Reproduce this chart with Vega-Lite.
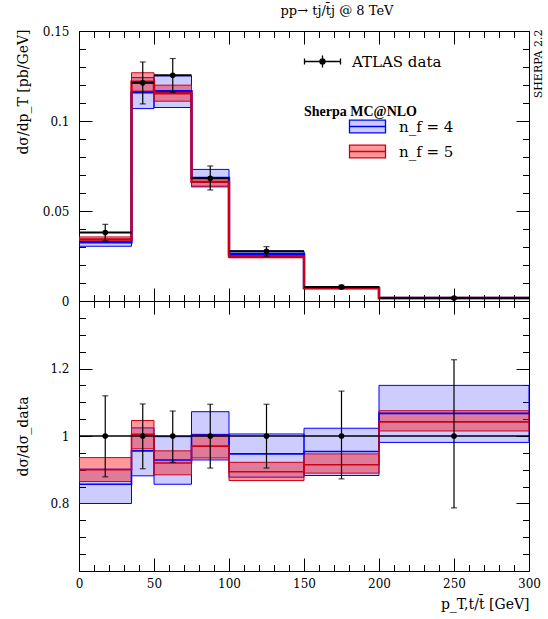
{
  "$schema": "https://vega.github.io/schema/vega-lite/v6.json",
  "description": "pT of the single top quark, ATLAS data vs Sherpa MC@NLO with 4 and 5 flavours",
  "padding": {"left": 15, "top": 4, "right": 4, "bottom": 4},
  "title": {
    "text": "pp→ tj/t̄j @ 8 TeV",
    "font": "DejaVu Serif",
    "fontSize": 13,
    "fontWeight": "normal",
    "color": "black",
    "anchor": "middle",
    "frame": "group",
    "dx": 33,
    "offset": 7
  },
  "datasets": {
    "pts": [
      {"bin": 1, "lo": 0, "hi": 35, "mid": 17.5, "d": 0.0380, "dlo": 0.0334, "dhi": 0.0426, "rlo": 0.879, "rhi": 1.119},
      {"bin": 2, "lo": 35, "hi": 50, "mid": 42.5, "d": 0.1212, "dlo": 0.1095, "dhi": 0.1328, "rlo": 0.903, "rhi": 1.095},
      {"bin": 3, "lo": 50, "hi": 75, "mid": 62.5, "d": 0.1254, "dlo": 0.1158, "dhi": 0.1347, "rlo": 0.922, "rhi": 1.074},
      {"bin": 4, "lo": 75, "hi": 100, "mid": 87.5, "d": 0.0682, "dlo": 0.0617, "dhi": 0.0750, "rlo": 0.905, "rhi": 1.094},
      {"bin": 5, "lo": 100, "hi": 150, "mid": 125, "d": 0.0276, "dlo": 0.0249, "dhi": 0.0302, "rlo": 0.905, "rhi": 1.094},
      {"bin": 6, "lo": 150, "hi": 200, "mid": 175, "d": 0.0078, "dlo": 0.0068, "dhi": 0.0088, "rlo": 0.873, "rhi": 1.133},
      {"bin": 7, "lo": 200, "hi": 300, "mid": 250, "d": 0.0016, "dlo": 0.0012, "dhi": 0.0020, "rlo": 0.787, "rhi": 1.226}
    ],
    "mc": [
      {"bin": 1, "nf": "n_f = 4", "lo": 0, "hi": 35, "c": 0.0326, "blo": 0.0304, "bhi": 0.0343, "rc": 0.857, "rblo": 0.800, "rbhi": 0.902},
      {"bin": 2, "nf": "n_f = 4", "lo": 35, "hi": 50, "c": 0.1159, "blo": 0.1069, "bhi": 0.1241, "rc": 0.956, "rblo": 0.882, "rbhi": 1.024},
      {"bin": 3, "nf": "n_f = 4", "lo": 50, "hi": 75, "c": 0.1165, "blo": 0.1075, "bhi": 0.1251, "rc": 0.929, "rblo": 0.857, "rbhi": 0.998},
      {"bin": 4, "nf": "n_f = 4", "lo": 75, "hi": 100, "c": 0.0684, "blo": 0.0634, "bhi": 0.0731, "rc": 1.003, "rblo": 0.929, "rbhi": 1.072},
      {"bin": 5, "nf": "n_f = 4", "lo": 100, "hi": 150, "c": 0.0261, "blo": 0.0242, "bhi": 0.0278, "rc": 0.947, "rblo": 0.878, "rbhi": 1.006},
      {"bin": 6, "nf": "n_f = 4", "lo": 150, "hi": 200, "c": 0.0074, "blo": 0.0069, "bhi": 0.0080, "rc": 0.954, "rblo": 0.883, "rbhi": 1.023},
      {"bin": 7, "nf": "n_f = 4", "lo": 200, "hi": 300, "c": 0.0017, "blo": 0.0016, "bhi": 0.0018, "rc": 1.067, "rblo": 0.981, "rbhi": 1.150},
      {"bin": 1, "nf": "n_f = 5", "lo": 0, "hi": 35, "c": 0.0342, "blo": 0.0329, "bhi": 0.0356, "rc": 0.900, "rblo": 0.865, "rbhi": 0.936},
      {"bin": 2, "nf": "n_f = 5", "lo": 35, "hi": 50, "c": 0.1218, "blo": 0.1166, "bhi": 0.1268, "rc": 1.005, "rblo": 0.962, "rbhi": 1.046},
      {"bin": 3, "nf": "n_f = 5", "lo": 50, "hi": 75, "c": 0.1154, "blo": 0.1110, "bhi": 0.1199, "rc": 0.920, "rblo": 0.885, "rbhi": 0.956},
      {"bin": 4, "nf": "n_f = 5", "lo": 75, "hi": 100, "c": 0.0662, "blo": 0.0638, "bhi": 0.0685, "rc": 0.970, "rblo": 0.935, "rbhi": 1.005},
      {"bin": 5, "nf": "n_f = 5", "lo": 100, "hi": 150, "c": 0.0247, "blo": 0.0240, "bhi": 0.0254, "rc": 0.894, "rblo": 0.868, "rbhi": 0.922},
      {"bin": 6, "nf": "n_f = 5", "lo": 150, "hi": 200, "c": 0.0071, "blo": 0.0069, "bhi": 0.0074, "rc": 0.915, "rblo": 0.890, "rbhi": 0.947},
      {"bin": 7, "nf": "n_f = 5", "lo": 200, "hi": 300, "c": 0.0017, "blo": 0.0016, "bhi": 0.0017, "rc": 1.042, "rblo": 1.015, "rbhi": 1.075}
    ]
  },
  "spacing": 0,
  "bounds": "flush",
  "resolve": {"scale": {"color": "independent", "stroke": "independent", "fill": "independent"}},
  "vconcat": [
    {
      "width": 450,
      "height": 270,
      "resolve": {"axis": {"x": "independent", "y": "independent"}},
      "layer": [
        {
          "data": {"name": "mc"},
          "mark": {"type": "rect", "strokeWidth": 1, "clip": true},
          "encoding": {
            "x": {"field": "lo", "type": "quantitative", "scale": {"domain": [0, 300], "nice": false, "zero": false},
              "axis": {"orient": "bottom", "values": [0, 50, 100, 150, 200, 250, 300], "offset": -13, "tickSize": 13, "labels": false, "title": null}},
            "x2": {"field": "hi"},
            "y": {"field": "blo", "type": "quantitative", "scale": {"domain": [0, 0.15], "nice": false},
              "axis": {"orient": "left", "values": [0, 0.05, 0.1, 0.15], "offset": -13, "tickSize": 13,
                "labelPadding": 10, "labelExpr": "'' + datum.value",
                "title": "dσ/dp_T [pb/GeV]", "titleX": -69, "titleY": -2, "titleAlign": "right", "titleBaseline": "middle", "titleAngle": 270}},
            "y2": {"field": "bhi"},
            "color": {"field": "nf", "type": "nominal", "scale": {"domain": ["n_f = 4", "n_f = 5"], "range": ["rgba(0,0,255,0.2)", "rgba(255,0,0,0.4)"]},
              "legend": {
                "orient": "none", "legendX": 225, "legendY": 74, "padding": 0,
                "title": "Sherpa MC@NLO", "titleFont": "Liberation Serif", "titleFontSize": 14, "titleFontWeight": "bold", "titleColor": "black", "titlePadding": 0,
                "symbolType": "M-3,-1.05H3V1.05H-3ZM-3,0H3", "symbolSize": 144, "symbolOffset": 56, "symbolStrokeWidth": 1.3,
                "labelOffset": 24, "labelFont": "DejaVu Serif", "labelFontSize": 15, "labelColor": "black", "rowPadding": 6
              }},
            "stroke": {"field": "nf", "type": "nominal", "scale": {"domain": ["n_f = 4", "n_f = 5"], "range": ["#0000ff", "#cc0015"]},
              "legend": {
                "orient": "none", "legendX": 225, "legendY": 74, "padding": 0,
                "title": "Sherpa MC@NLO", "titleFont": "Liberation Serif", "titleFontSize": 14, "titleFontWeight": "bold", "titleColor": "black", "titlePadding": 0,
                "symbolType": "M-3,-1.05H3V1.05H-3ZM-3,0H3", "symbolSize": 144, "symbolOffset": 56, "symbolStrokeWidth": 1.3,
                "labelOffset": 24, "labelFont": "DejaVu Serif", "labelFontSize": 15, "labelColor": "black", "rowPadding": 6
              }}
          }
        },
        {
          "data": {"name": "mc"},
          "transform": [{"fold": ["lo", "hi"], "as": ["edge", "xe"]}],
          "mark": {"type": "line", "strokeWidth": 2.4, "clip": true},
          "encoding": {
            "x": {"field": "xe", "type": "quantitative",
              "axis": {"orient": "bottom", "values": [10,20,30,40,60,70,80,90,110,120,130,140,160,170,180,190,210,220,230,240,260,270,280,290], "offset": -6.5, "tickSize": 6.5, "labels": false, "title": null}},
            "y": {"field": "c", "type": "quantitative",
              "axis": {"orient": "left", "values": [0.01,0.02,0.03,0.04,0.06,0.07,0.08,0.09,0.11,0.12,0.13,0.14], "offset": -6.5, "tickSize": 6.5, "labels": false, "title": null}},
            "stroke": {"field": "nf", "type": "nominal", "scale": {"domain": ["n_f = 4", "n_f = 5"], "range": ["#0000ff", "#cc0015"]}, "legend": null},
            "order": [{"field": "bin", "type": "quantitative"}, {"field": "edge", "type": "nominal", "sort": "descending"}]
          }
        },
        {
          "data": {"name": "pts"},
          "mark": {"type": "rule", "strokeWidth": 2, "color": "black"},
          "encoding": {
            "x": {"field": "lo", "type": "quantitative",
              "axis": {"orient": "top", "values": [0, 50, 100, 150, 200, 250, 300], "offset": -13, "tickSize": 13, "labels": false, "title": null}},
            "x2": {"field": "hi"},
            "y": {"field": "d", "type": "quantitative",
              "axis": {"orient": "right", "values": [0, 0.05, 0.1, 0.15], "offset": -13, "tickSize": 13, "labels": false,
                "title": "SHERPA 2.2", "titleFontSize": 11, "titleX": 22, "titleY": -2, "titleAlign": "right", "titleBaseline": "middle", "titleAngle": 270}}
          }
        },
        {
          "data": {"name": "pts"},
          "mark": {"type": "errorbar", "color": "black", "thickness": 1.2, "ticks": {"size": 6, "color": "black"}},
          "encoding": {
            "x": {"field": "mid", "type": "quantitative", "axis": null},
            "y": {"field": "dlo", "type": "quantitative", "axis": null},
            "y2": {"field": "dhi"}
          }
        },
        {
          "data": {"name": "pts"},
          "mark": {"type": "point", "filled": true, "size": 32, "opacity": 1},
          "encoding": {
            "x": {"field": "mid", "type": "quantitative",
              "axis": {"orient": "top", "values": [10,20,30,40,60,70,80,90,110,120,130,140,160,170,180,190,210,220,230,240,260,270,280,290], "offset": -6.5, "tickSize": 6.5, "labels": false, "title": null}},
            "y": {"field": "d", "type": "quantitative",
              "axis": {"orient": "right", "values": [0.01,0.02,0.03,0.04,0.06,0.07,0.08,0.09,0.11,0.12,0.13,0.14], "offset": -6.5, "tickSize": 6.5, "labels": false, "title": null}},
            "fill": {"datum": "ATLAS data", "type": "nominal", "scale": {"range": ["black"]},
              "legend": {
                "orient": "none", "legendX": 224, "legendY": 23, "padding": 0, "title": null,
                "symbolType": "M-3,0H3M-3,-0.5V0.5M3,-0.5V0.5M0,-1V1M0.42,0A0.42,0.42 0 1,1 -0.42,0A0.42,0.42 0 1,1 0.42,0Z",
                "symbolSize": 144, "symbolOffset": 12, "symbolStrokeColor": "black", "symbolStrokeWidth": 1.3,
                "labelOffset": 22, "labelFont": "DejaVu Serif", "labelFontSize": 15, "labelColor": "black"
              }}
          }
        }
      ]
    },
    {
      "width": 450,
      "height": 270,
      "resolve": {"axis": {"x": "independent", "y": "independent"}},
      "layer": [
        {
          "data": {"name": "mc"},
          "mark": {"type": "rect", "strokeWidth": 1, "clip": true},
          "encoding": {
            "x": {"field": "lo", "type": "quantitative", "scale": {"domain": [0, 300], "nice": false, "zero": false},
              "axis": {"orient": "bottom", "values": [0, 50, 100, 150, 200, 250, 300], "offset": -13, "tickSize": 13,
                "labelPadding": 7, "labelExpr": "'' + datum.value",
                "title": "p_T,t/t̄ [GeV]", "titleX": 450, "titleY": 46, "titleAlign": "right", "titleBaseline": "middle"}},
            "x2": {"field": "hi"},
            "y": {"field": "rblo", "type": "quantitative", "scale": {"domain": [0.6, 1.4], "nice": false, "zero": false},
              "axis": {"orient": "left", "values": [0.8, 1, 1.2], "offset": -13, "tickSize": 13,
                "labelPadding": 10, "labelExpr": "'' + datum.value",
                "title": "dσ/dσ_data", "titleX": -69, "titleY": 135, "titleAlign": "center", "titleBaseline": "middle", "titleAngle": 270}},
            "y2": {"field": "rbhi"},
            "color": {"field": "nf", "type": "nominal", "scale": {"domain": ["n_f = 4", "n_f = 5"], "range": ["rgba(0,0,255,0.2)", "rgba(255,0,0,0.4)"]}, "legend": null},
            "stroke": {"field": "nf", "type": "nominal", "scale": {"domain": ["n_f = 4", "n_f = 5"], "range": ["#0000ff", "#cc0015"]}, "legend": null}
          }
        },
        {
          "data": {"name": "mc"},
          "transform": [{"fold": ["lo", "hi"], "as": ["edge", "xe"]}],
          "mark": {"type": "line", "strokeWidth": 1.6, "clip": true},
          "encoding": {
            "x": {"field": "xe", "type": "quantitative",
              "axis": {"orient": "bottom", "values": [10,20,30,40,60,70,80,90,110,120,130,140,160,170,180,190,210,220,230,240,260,270,280,290], "offset": -6.5, "tickSize": 6.5, "labels": false, "title": null}},
            "y": {"field": "rc", "type": "quantitative",
              "axis": {"orient": "left", "values": [0.65,0.7,0.75,0.85,0.9,0.95,1.05,1.1,1.15,1.25,1.3,1.35], "offset": -6.5, "tickSize": 6.5, "labels": false, "title": null}},
            "stroke": {"field": "nf", "type": "nominal", "scale": {"domain": ["n_f = 4", "n_f = 5"], "range": ["#0000ff", "#cc0015"]}, "legend": null},
            "order": [{"field": "bin", "type": "quantitative"}, {"field": "edge", "type": "nominal", "sort": "descending"}]
          }
        },
        {
          "data": {"name": "pts"},
          "mark": {"type": "rule", "strokeWidth": 1.5, "color": "black"},
          "encoding": {
            "x": {"field": "lo", "type": "quantitative",
              "axis": {"orient": "top", "values": [0, 50, 100, 150, 200, 250, 300], "offset": -13, "tickSize": 13, "labels": false, "title": null}},
            "x2": {"field": "hi"},
            "y": {"datum": 1, "type": "quantitative",
              "axis": {"orient": "right", "values": [0.8, 1, 1.2], "offset": -13, "tickSize": 13, "labels": false, "title": null}}
          }
        },
        {
          "data": {"name": "pts"},
          "mark": {"type": "errorbar", "color": "black", "thickness": 1.2, "ticks": {"size": 6, "color": "black"}},
          "encoding": {
            "x": {"field": "mid", "type": "quantitative", "axis": null},
            "y": {"field": "rlo", "type": "quantitative", "axis": null},
            "y2": {"field": "rhi"}
          }
        },
        {
          "data": {"name": "pts"},
          "mark": {"type": "point", "filled": true, "size": 32, "opacity": 1, "color": "black"},
          "encoding": {
            "x": {"field": "mid", "type": "quantitative",
              "axis": {"orient": "top", "values": [10,20,30,40,60,70,80,90,110,120,130,140,160,170,180,190,210,220,230,240,260,270,280,290], "offset": -6.5, "tickSize": 6.5, "labels": false, "title": null}},
            "y": {"datum": 1, "type": "quantitative",
              "axis": {"orient": "right", "values": [0.65,0.7,0.75,0.85,0.9,0.95,1.05,1.1,1.15,1.25,1.3,1.35], "offset": -6.5, "tickSize": 6.5, "labels": false, "title": null}}
          }
        }
      ]
    }
  ],
  "config": {
    "view": {"stroke": "black", "strokeWidth": 1},
    "axis": {
      "grid": false,
      "domain": false,
      "ticks": true,
      "tickColor": "black",
      "tickWidth": 1,
      "tickOpacity": 1,
      "zindex": 2,
      "labelFont": "DejaVu Serif",
      "labelFontSize": 12,
      "labelColor": "black",
      "labelFlush": false,
      "labelOverlap": false,
      "titleFont": "DejaVu Serif",
      "titleFontSize": 14,
      "titleFontWeight": "normal",
      "titleColor": "black"
    }
  }
}
